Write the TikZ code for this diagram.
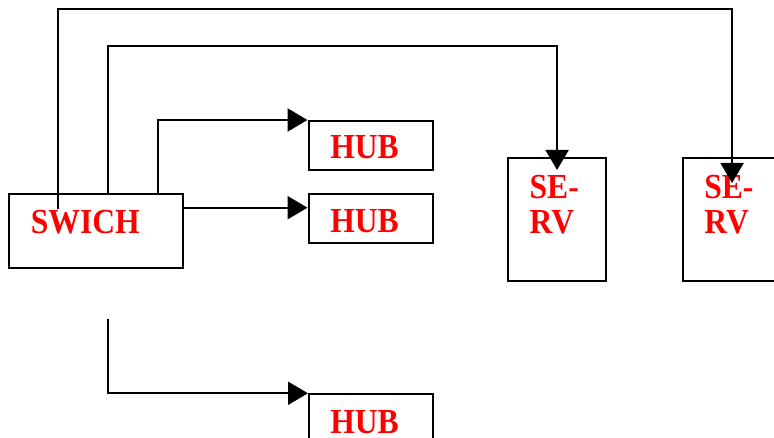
\documentclass[tikz,border=0pt]{standalone}
\usepackage{fontspec}
\newfontfamily\hubfont[FakeStretch=0.9]{Liberation Serif}
\usetikzlibrary{arrows.meta,calc}
\begin{document}
\begin{tikzpicture}[x=0.025cm, y=-0.025cm,
  box/.style={draw, line width=1.5pt, inner sep=0pt, anchor=north west},
  tag/.style={font={\hubfont\bfseries\fontsize{25}{24.8}\selectfont}, text=red, inner sep=0pt, align=left},
  wire/.style={line width=1.5pt, -{Triangle[length=0.5cm, width=0.575cm]}},
]
\useasboundingbox (0,0) rectangle (774,438);
\clip (0,0) rectangle (774,438);
\node[box, minimum width=4.34cm, minimum height=1.85cm] (swich) at (8,192.7) {};
\node[tag, anchor=base west] (swichlbl) at (30.5,234) {SWICH};
\node[box, minimum width=3.105cm, minimum height=1.225cm] (hub1) at (307.5,120) {};
\node[tag, anchor=base west] (hub1lbl) at (330,159) {HUB};
\node[box, minimum width=3.105cm, minimum height=1.225cm] (hub2) at (307.5,193.3) {};
\node[tag, anchor=base west] (hub2lbl) at (330,233) {HUB};
\node[box, minimum width=3.105cm, minimum height=1.225cm] (hub3) at (308,393.3) {};
\node[tag, anchor=base west] (hub3lbl) at (330,433) {HUB};
\node[box, minimum width=2.465cm, minimum height=3.075cm] (serv1) at (506.7,157) {};
\node[tag, anchor=north west] (serv1lbl) at (529.3,175) {SE-\\RV};
\node[box, minimum width=2.465cm, minimum height=3.075cm] (serv2) at (681.7,157) {};
\node[tag, anchor=north west] (serv2lbl) at (704,175) {SE-\\RV};
\coordinate (up1) at (58,209);
\coordinate (end1) at ($(serv2.north)+(0,26)$);
\draw[wire] (up1) -- ++(0,-199.7) -| (end1);
\coordinate (up2) at ($(swich.north west)+(100,2.3)$);
\coordinate (end2) at ($(serv1.north)+(0,13)$);
\draw[wire] (up2) -- ++(0,-149) -| (end2);
\coordinate (up3) at ($(swich.north west)+(149.7,0)$);
\draw[wire] (up3) |- (hub1.north west);
\coordinate (out4) at ($(swich.north east)+(0,15)$);
\draw[wire] (out4) -- (out4 -| hub2.west);
\coordinate (loose) at (107.7,319.3);
\draw[wire] (loose) |- (hub3.north west);
\end{tikzpicture}
\end{document}
